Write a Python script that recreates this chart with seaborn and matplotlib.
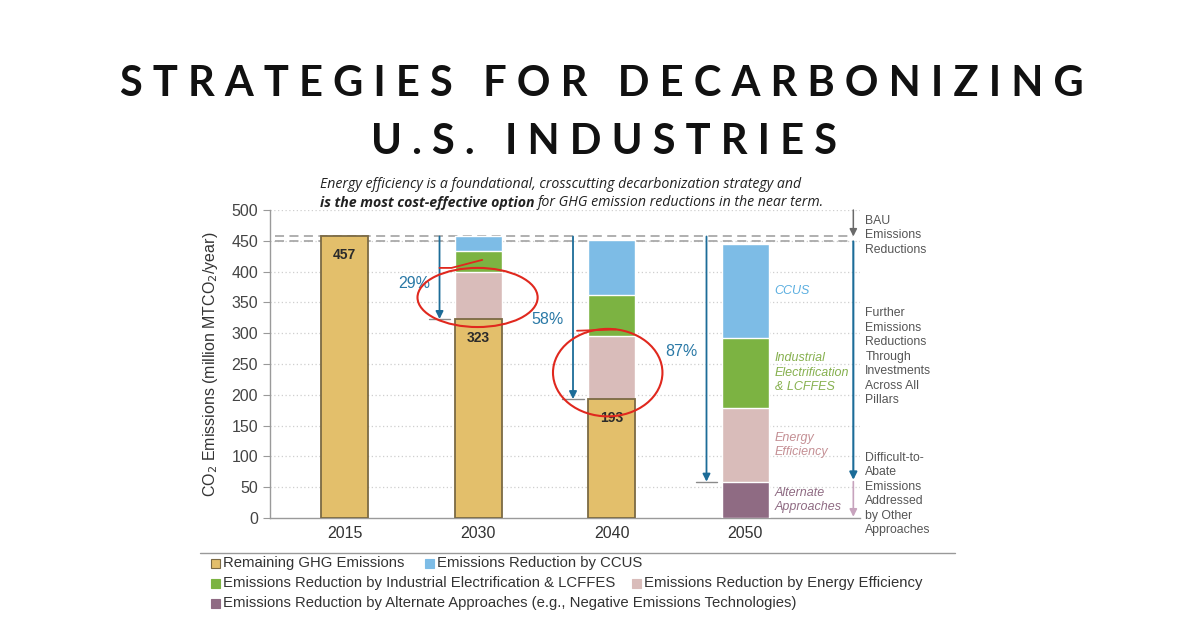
import numpy as np
import pandas as pd
import seaborn as sns
import matplotlib
matplotlib.use("Agg")
import matplotlib.pyplot as plt
from matplotlib.patches import Rectangle, Ellipse

# data (million MTCO2/year)
years = ["2015", "2030", "2040", "2050"]
remaining = [457, 323, 193, 0]
alternate = [0, 0, 0, 59]
efficiency = [0, 76, 102, 120]
electrification = [0, 34, 67, 114]
ccus = [0, 24, 90, 151]
bau_levels = [457, 449]

layer_names = ["Remaining GHG Emissions",
               "Emissions Reduction by Alternate Approaches (e.g., Negative Emissions Technologies)",
               "Emissions Reduction by Energy Efficiency",
               "Emissions Reduction by Industrial Electrification & LCFFES",
               "Emissions Reduction by CCUS"]
inbar_labels = ["", "Alternate\nApproaches", "Energy\nEfficiency",
                "Industrial\nElectrification\n& LCFFES", "CCUS"]
colors = ["#E3BF6B", "#8F6B83", "#D9BCBA", "#7CB342", "#7DBCE6"]
text_colors = ["#333333", "#8F6B83", "#C48F94", "#86B04E", "#5AAEE0"]

sns.set_style("white")
plt.rcParams['font.family'] = ['Liberation Sans', 'DejaVu Sans']

# long table with cumulative tops for the stacked bars
layers = [remaining, alternate, efficiency, electrification, ccus]
rows = []
cum = np.zeros(len(years))
for name, vals in zip(layer_names, layers):
    bottom = cum.copy()
    cum = cum + np.array(vals)
    for y, v, b, t in zip(years, vals, bottom, cum):
        rows.append({"year": y, "layer": name, "value": v, "bottom": b, "top": t})
df = pd.DataFrame(rows)

fig = plt.figure(figsize=(12, 6.34), dpi=100)
ax = fig.add_axes([270 / 1200, 1 - 518 / 634, 590 / 1200, 308 / 634])

def px(x, y):
    return x / 1200, 1 - y / 634

# gridlines + BAU dashed lines behind the bars
for v in range(50, 501, 50):
    ax.axhline(v, color="#cfcfcf", lw=0.9, ls=(0, (1, 2)), zorder=0)
for v in bau_levels:
    ax.plot([-0.52, 3.81], [v, v], color="#a9a9a9", lw=1.3, ls=(0, (5, 3)), zorder=1)

# draw from top layer down, each bar covering the one before
for i in range(len(layer_names) - 1, -1, -1):
    sub = df[(df.layer == layer_names[i]) & (df.value > 0)]
    if i == 0:
        ec, lw = "#7b6a44", 1.3
    else:
        ec, lw = "white", 1.0
    sns.barplot(data=sub, x="year", y="top", order=years, color=colors[i],
                width=0.35, errorbar=None, edgecolor=ec, linewidth=lw,
                saturation=1, ax=ax, zorder=3)

# value labels on remaining emissions
for i, v in enumerate(remaining):
    if v > 0:
        ax.text(i, v - 30, str(v), ha="center", va="center", fontsize=10,
                fontweight="bold", color="#2b2b2b", zorder=5)

# labels beside the 2050 bar
last = df[df.year == years[-1]]
for i in range(1, len(layer_names)):
    r = last[last.layer == layer_names[i]].iloc[0]
    ax.text(3.22, (r.bottom + r.top) / 2, inbar_labels[i], ha="left", va="center",
            fontsize=9, style="italic", color=text_colors[i], linespacing=1.25)

# reduction arrows with percentages
bau = remaining[0]
label_y = [380, 322, 271]
for k, i in enumerate(range(1, 4)):
    end = remaining[i] + alternate[i]
    xa = i - 0.29
    ax.annotate("", xy=(xa, end), xytext=(xa, bau),
                arrowprops=dict(arrowstyle="-|>", color="#1C6C98", lw=1.3,
                                mutation_scale=11, shrinkA=0, shrinkB=0), zorder=4)
    ax.plot([xa - 0.08, xa + 0.08], [end, end], color="#8a8a8a", lw=1.0, zorder=4)
    pct = round((bau - end) / bau * 100)
    ax.text(xa - 0.19, label_y[k], f"{pct}%", ha="center", va="center",
            fontsize=11.5, color="#2A79A6", zorder=5)

# right-hand bracket arrows
xr = 3.81
ax.annotate("", xy=(xr, bau), xytext=(xr, 500),
            arrowprops=dict(arrowstyle="-|>", color="#6a6a6a", lw=1.1,
                            mutation_scale=11, shrinkA=0, shrinkB=0), annotation_clip=False)
ax.annotate("", xy=(xr, alternate[3] + 3), xytext=(xr, bau_levels[1]),
            arrowprops=dict(arrowstyle="-|>", color="#1C6C98", lw=1.5,
                            mutation_scale=11, shrinkA=0, shrinkB=0))
ax.annotate("", xy=(xr, 2), xytext=(xr, alternate[3]),
            arrowprops=dict(arrowstyle="-|>", color="#C7A3BD", lw=1.2,
                            mutation_scale=11, shrinkA=0, shrinkB=0))
side_kw = dict(ha="left", va="center", fontsize=8.8, color="#555555", linespacing=1.28)
ax.text(3.9, 459, "BAU\nEmissions\nReductions", **side_kw)
ax.text(3.9, 262, "Further\nEmissions\nReductions\nThrough\nInvestments\nAcross All\nPillars", **side_kw)
ax.text(3.9, 39, "Difficult-to-\nAbate\nEmissions\nAddressed\nby Other\nApproaches", **side_kw)

# hand-drawn red marks
red = "#E0281E"
ax.add_patch(Ellipse((0.995, 358), 0.90, 96, fill=False, ec=red, lw=1.5, zorder=6))
ax.add_patch(Ellipse((1.97, 236), 0.82, 142, fill=False, ec=red, lw=1.5, zorder=6))
ax.plot([0.71, 0.80, 1.03], [406, 406, 419], color=red, lw=1.3, zorder=6)
ax.plot([1.74, 2.03], [304, 306], color=red, lw=1.3, zorder=6)

ax.set_xlim(-0.56, 3.86)
ax.set_ylim(0, 500)
ax.set_yticks(range(0, 501, 50))
ax.set_xlabel("")
ax.set_ylabel("CO$_2$ Emissions (million MTCO$_2$/year)", fontsize=11.5,
              color="#333333", labelpad=8)
ax.tick_params(axis="y", labelsize=11.5, labelcolor="#444444", length=5,
               color="#999999", direction="out", left=True)
ax.tick_params(axis="x", labelsize=11.5, labelcolor="#333333", length=0, pad=6)
sns.despine(ax=ax, top=True, right=True)
for s in ["left", "bottom"]:
    ax.spines[s].set_color("#9a9a9a")
    ax.spines[s].set_linewidth(1.0)
ax.patch.set_alpha(0)

# title and subtitle
title_kw = dict(ha="center", va="center", fontsize=30, fontweight="bold",
                family=["Lato", "DejaVu Sans"], color="#111111")
fig.text(*px(602, 84), "S T R A T E G I E S   F O R   D E C A R B O N I Z I N G", **title_kw)
fig.text(*px(604, 142), "U . S .   I N D U S T R I E S", **title_kw)
sub_kw = dict(ha="left", va="center", fontsize=10.2, style="italic",
              family=["Open Sans", "DejaVu Sans"], color="#222222")
fig.text(*px(320, 185), "Energy efficiency is a foundational, crosscutting decarbonization strategy and",
         **sub_kw)
t1 = fig.text(*px(320, 203), "is the most cost-effective option", fontweight="bold", **sub_kw)
fig.canvas.draw()
bb = t1.get_window_extent(fig.canvas.get_renderer())
fig.text(bb.x1 / 1200 + 0.003, 1 - 203 / 634, "for GHG emission reductions in the near term.",
         **sub_kw)

# legend (separator line + manual entries)
fig.add_artist(plt.Line2D([200 / 1200, 955 / 1200], [1 - 553 / 634] * 2,
                          color="#999999", lw=1.0))
leg_pos = [(211, 563), (211, 603), (632, 583), (211, 583), (425, 563)]
for i, (x, y) in enumerate(leg_pos):
    ec = "#7b6a44" if i == 0 else colors[i]
    fig.add_artist(Rectangle(px(x, y + 4.5), 9 / 1200, 9 / 634,
                             fc=colors[i], ec=ec, lw=0.8))
    fig.text(*px(x + 12, y), layer_names[i], ha="left", va="center",
             fontsize=10.7, color="#333333")

fig.savefig("out.png", dpi=100)
